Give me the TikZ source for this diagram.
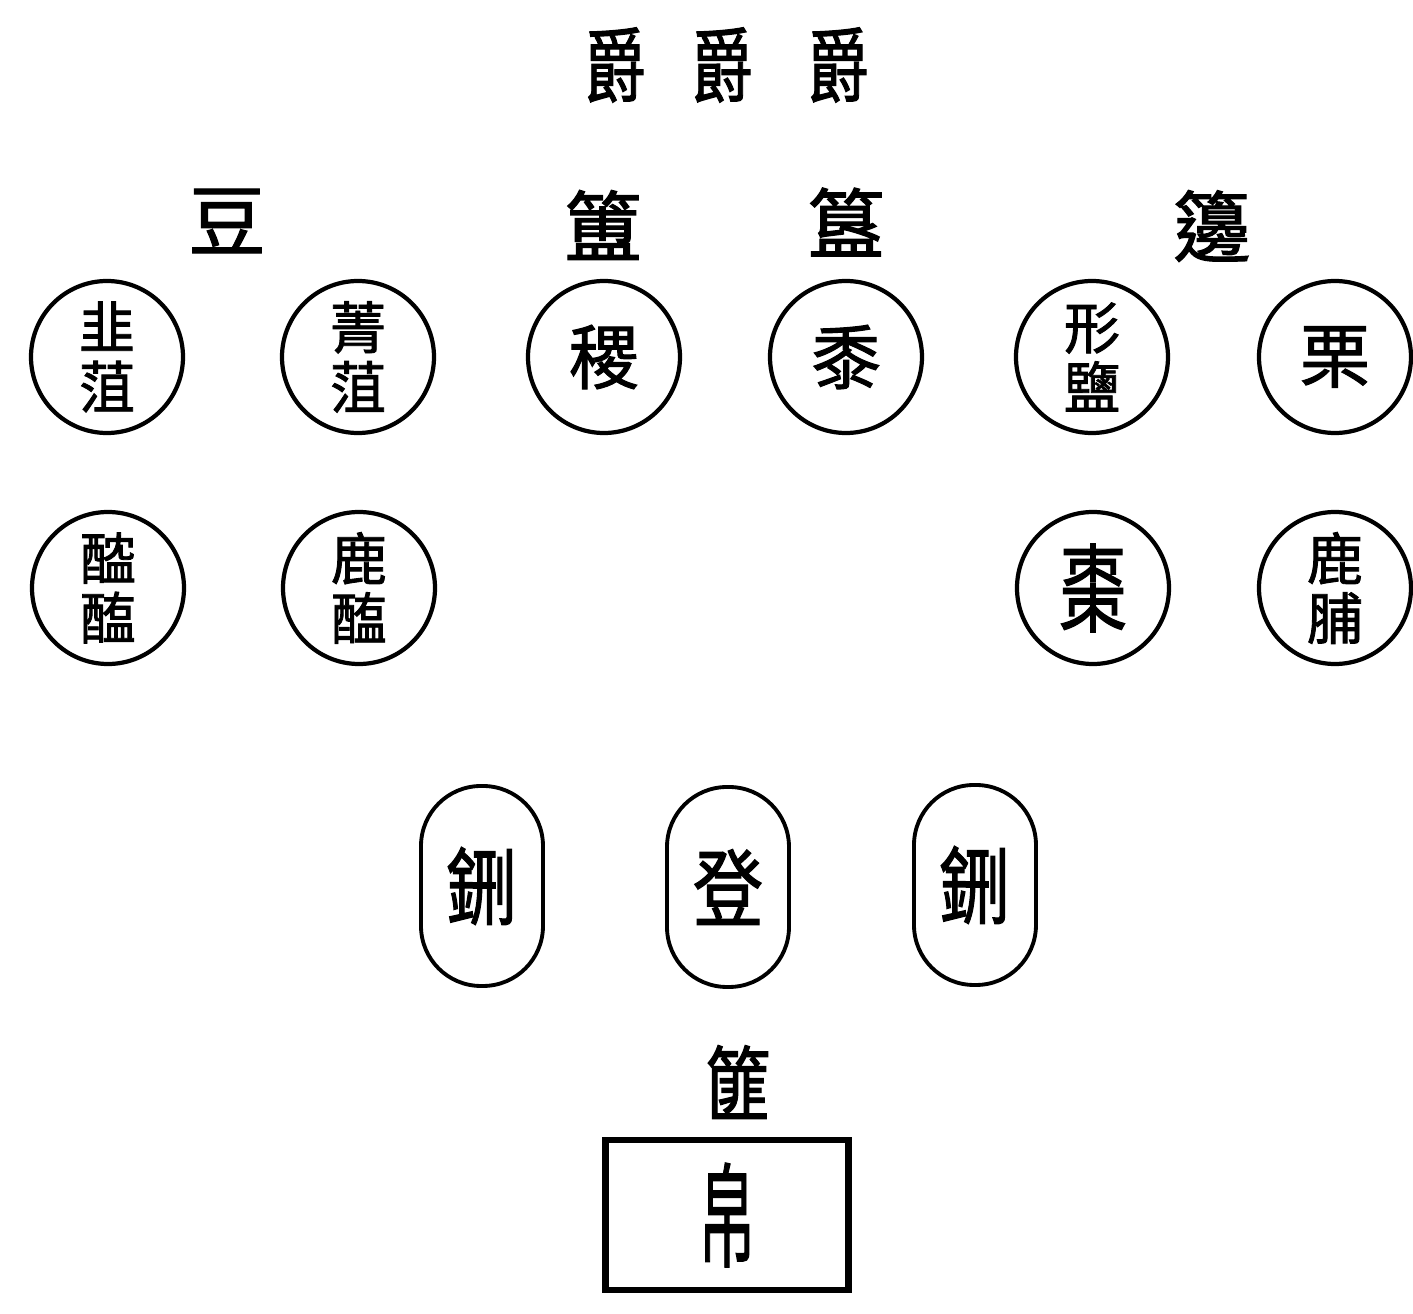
\documentclass[tikz,border=0pt]{standalone}
\usepackage{fontspec}
\newfontfamily\cjk[FakeBold=1.5]{Noto Sans CJK TC}
\usetikzlibrary{positioning}

\begin{document}
\begin{tikzpicture}[
  vessel/.style={circle, draw=black, line width=1.2pt, minimum size=1.52cm, inner sep=0pt,
                 font=\cjk\fontsize{16}{17}\selectfont, align=center},
  single/.style={vessel, font=\cjk\fontsize{20}{20}\selectfont},
  tray/.style={rectangle, draw=black, line width=1.1pt, rounded corners=0.6cm,
               minimum width=1.22cm, minimum height=2cm, inner sep=0pt,
               font=\cjk\fontsize{20}{20}\selectfont},
  basket/.style={rectangle, draw=black, line width=1.8pt,
                 minimum width=2.43cm, minimum height=1.5cm, inner sep=0pt,
                 font=\cjk\fontsize{20}{20}\selectfont},
  tag/.style={inner sep=0pt, font=\cjk\fontsize{22}{22}\selectfont}
]
  \useasboundingbox (0,0) rectangle (14.13,-13.14);

  % Cups on top
  \node[tag] (j1) at (6.15,-0.65) {\scalebox{0.8}[1.05]{爵}};
  \node[tag] (j2) at (7.22,-0.65) {\scalebox{0.8}[1.05]{爵}};
  \node[tag] (j3) at (8.38,-0.65) {\scalebox{0.8}[1.05]{爵}};

  % Vessel names
  \node[tag] (dou)  at (2.27,-2.21) {豆};
  \node[tag] (fu)   at (6.03,-2.25) {簠};
  \node[tag] (gui)  at (8.46,-2.22) {簋};
  \node[tag] (bian) at (12.12,-2.26) {籩};

  % First row
  \node[vessel] (a1) at (1.07,-3.57)  {韭\\菹};
  \node[vessel] (a2) at (3.58,-3.57)  {菁\\菹};
  \node[single] (a3) at (6.04,-3.57)  {稷};
  \node[single] (a4) at (8.46,-3.57)  {黍};
  \node[vessel] (a5) at (10.92,-3.57) {形\\鹽};
  \node[single] (a6) at (13.35,-3.57) {栗};

  % Second row
  \node[vessel] (b1) at (1.08,-5.88)  {醓\\醢};
  \node[vessel] (b2) at (3.59,-5.88)  {鹿\\醢};
  \node[single] (b5) at (10.93,-5.88) {\scalebox{0.95}[1.35]{棗}};
  \node[vessel] (b6) at (13.35,-5.88) {鹿\\脯};

  % Soup vessels
  \node[tray] (x1) at (4.82,-8.86) {\scalebox{1}[1.2]{鉶}};
  \node[tray] (x2) at (7.28,-8.87) {\scalebox{1}[1.2]{登}};
  \node[tray] (x3) at (9.75,-8.85) {\scalebox{1}[1.2]{鉶}};

  % Silk basket
  \node[tag] (fei) at (7.38,-10.82) {\scalebox{0.85}[1.05]{篚}};
  \node[basket] (bo) at (7.27,-12.15) {\scalebox{0.8}[1.6]{帛}};
\end{tikzpicture}
\end{document}
